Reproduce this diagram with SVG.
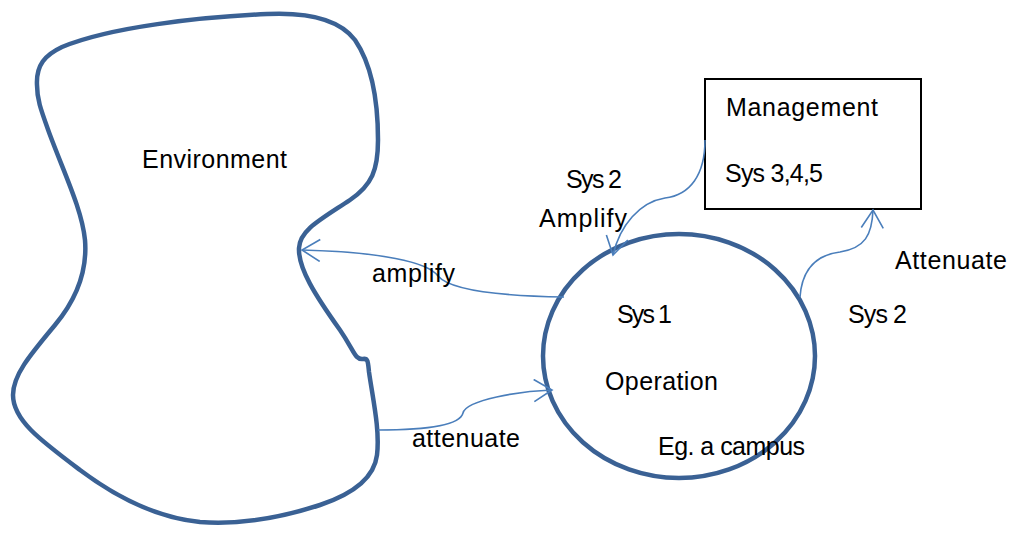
<svg xmlns="http://www.w3.org/2000/svg" width="1011" height="539" viewBox="0 0 1011 539">
  <defs>
    <style>
      .label { font-family: "Liberation Sans", Arial, sans-serif; font-size: 25px; fill: #000; }
      .outline { fill: #fff; stroke: #3a6194; stroke-width: 4.5; }
      .box { fill: #fff; stroke: #000; stroke-width: 2; }
      .link { fill: none; stroke: #4a7ebb; stroke-width: 1.6; }
    </style>
    <marker id="open-arrow" viewBox="0 0 24 24" refX="20" refY="12" markerWidth="24" markerHeight="24" markerUnits="userSpaceOnUse" orient="auto">
      <path d="M 2 1 L 20 12 L 2 23" fill="none" stroke="#4a7ebb" stroke-width="1.6"/>
    </marker>
  </defs>

  <g id="environment">
    <path class="outline" d="M 37 85 C 36 65, 45 55, 62 47 C 110 27, 200 17, 267 14 C 310 12, 340 20, 355 40 C 372 65, 378 100, 378 140 C 378 170, 372 185, 350 200 C 320 220, 300 230, 299 248 C 298 268, 315 295, 340 330 C 355 352, 355 360, 363 359 C 368 358, 368 362, 369 372 C 373 400, 380 430, 377 455 C 374 480, 350 495, 320 505 C 280 518, 240 525, 200 522 C 160 518, 120 500, 80 470 C 40 440, 13 420, 13 395 C 13 375, 30 355, 55 325 C 80 295, 87 265, 85 240 C 82 210, 65 175, 50 135 C 41 110, 37 100, 37 85 Z"/>
    <text class="label" x="142" y="168" textLength="145">Environment</text>
  </g>

  <g id="operation">
    <ellipse class="outline" cx="679" cy="356" rx="136" ry="122"/>
    <text class="label" x="617" y="323" textLength="55">Sys 1</text>
    <text class="label" x="605" y="390" textLength="113">Operation</text>
    <text class="label" x="658" y="455" textLength="147">Eg. a campus</text>
  </g>

  <g id="management">
    <rect class="box" x="705" y="79" width="216" height="130"/>
    <text class="label" x="726" y="116" textLength="152">Management</text>
    <text class="label" x="725" y="182" textLength="98">Sys 3,4,5</text>
  </g>

  <g id="connectors">
    <!-- operation to environment: amplify -->
    <path class="link" marker-end="url(#open-arrow)" d="M 564 297 C 500 296, 450 290, 438 276 C 428 262, 380 252, 302 250"/>
    <!-- environment to operation: attenuate -->
    <path class="link" marker-end="url(#open-arrow)" d="M 378 430 C 430 430, 460 425, 463 413 C 466 400, 520 391, 552 390"/>
    <!-- management to operation -->
    <path class="link" marker-end="url(#open-arrow)" d="M 705 140 C 705 175, 690 195, 665 198 C 640 202, 620 225, 613 255"/>
    <!-- operation to management -->
    <path class="link" marker-end="url(#open-arrow)" d="M 800 297 C 802 270, 815 255, 840 252 C 865 248, 872 235, 873 210"/>
  </g>

  <g id="labels">
    <text class="label" x="372" y="282" textLength="83">amplify</text>
    <text class="label" x="412" y="447" textLength="108">attenuate</text>
    <text class="label" x="566" y="188" textLength="56">Sys 2</text>
    <text class="label" x="539" y="227" textLength="88">Amplify</text>
    <text class="label" x="895" y="269" textLength="112">Attenuate</text>
    <text class="label" x="848" y="323" textLength="59">Sys 2</text>
  </g>
</svg>
